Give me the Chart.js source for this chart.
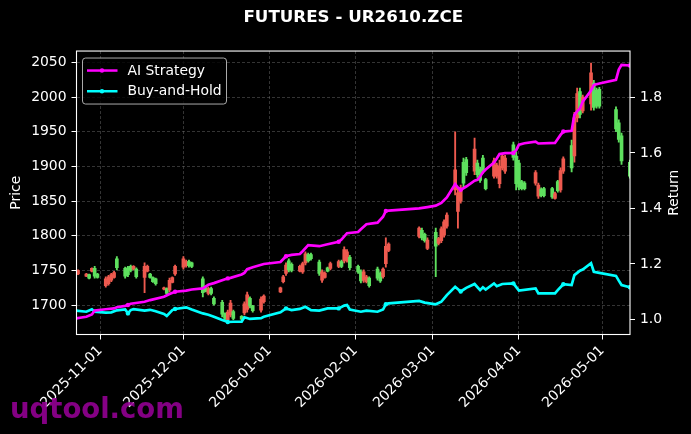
<!DOCTYPE html>
<html><head><meta charset="utf-8">
<script src="https://cdn.jsdelivr.net/npm/chart.js@4.4.1/dist/chart.umd.min.js"></script>
<style>html,body{margin:0;padding:0;background:#000;overflow:hidden}</style>
</head><body>
<canvas id="c" width="691" height="434"></canvas>
<script>
// ---------- data ----------
const candleDates = [
'2025-10-24','2025-10-27','2025-10-28','2025-10-29','2025-10-30','2025-10-31',
'2025-11-03','2025-11-04','2025-11-05','2025-11-06','2025-11-07',
'2025-11-10','2025-11-11','2025-11-12','2025-11-13','2025-11-14',
'2025-11-17','2025-11-18','2025-11-19','2025-11-20','2025-11-21',
'2025-11-24','2025-11-25','2025-11-26','2025-11-27','2025-11-28',
'2025-12-01','2025-12-02','2025-12-03','2025-12-04',
'2025-12-08','2025-12-09','2025-12-10','2025-12-11','2025-12-12',
'2025-12-15','2025-12-16','2025-12-17','2025-12-18','2025-12-19',
'2025-12-22','2025-12-23','2025-12-24','2025-12-25','2025-12-26',
'2025-12-29','2025-12-30',
'2026-01-05','2026-01-06','2026-01-07','2026-01-08','2026-01-09',
'2026-01-12','2026-01-13','2026-01-14','2026-01-15','2026-01-16',
'2026-01-19','2026-01-20','2026-01-21','2026-01-22','2026-01-23',
'2026-01-26','2026-01-27','2026-01-28','2026-01-29','2026-01-30',
'2026-02-02','2026-02-03','2026-02-04','2026-02-05','2026-02-06',
'2026-02-09','2026-02-10','2026-02-11','2026-02-12','2026-02-13',
'2026-02-24','2026-02-25','2026-02-26','2026-02-27',
'2026-03-02','2026-03-03','2026-03-04','2026-03-05','2026-03-06',
'2026-03-09','2026-03-10','2026-03-11','2026-03-12','2026-03-13',
'2026-03-16','2026-03-17','2026-03-18','2026-03-19','2026-03-20',
'2026-03-23','2026-03-24','2026-03-25','2026-03-26','2026-03-27',
'2026-03-30','2026-03-31','2026-04-01','2026-04-02','2026-04-03',
'2026-04-07','2026-04-08','2026-04-09','2026-04-10',
'2026-04-13','2026-04-14','2026-04-15','2026-04-16','2026-04-17',
'2026-04-20','2026-04-21','2026-04-22','2026-04-23','2026-04-24',
'2026-04-27','2026-04-28','2026-04-29','2026-04-30',
'2026-05-06','2026-05-07','2026-05-08','2026-05-11'];

const opens = [
1745,1742,1744,1749,1753,1745,
1728,1731,1736,1740,1767,
1753,1754,1756,1752,1752,
1740,1749,1745,1740,1738,
1723,1724,1722,1733,1745,
1755,1757,1763,1761,
1738,1725,1717,1724,1710,
1704,1688,1679,1686,1691,
1684,1689,1694,1710,1699,
1693,1705,
1719,1734,1746,1764,1759,
1749,1748,1761,1773,1773,
1762,1736,1740,1754,1753,
1756,1763,1764,1764,1769,
1756,1748,1736,1734,1739,
1752,1746,1741,1760,1779,
1799,1808,1802,1782,
1805,1789,1793,1801,1814,
1866,1835,1850,1906,1910,
1893,1905,1896,1912,1881,
1886,1886,1875,1898,1893,
1931,1915,1905,1878,1876,
1876,1857,1867,1868,
1868,1854,1878,1866,1893,
1930,1915,1970,2008,1980,
1990,2020,2010,2011,
1982,1963,1944,1906];

const highs = [
1751,1746,1745,1754,1756,1746,
1741,1743,1746,1749,1770,
1755,1756,1758,1757,1754,
1761,1758,1746,1741,1739,
1726,1725,1739,1741,1758,
1770,1765,1765,1762,
1741,1726,1726,1726,1712,
1707,1689,1693,1707,1693,
1685,1705,1719,1712,1700,
1712,1715,
1726,1743,1761,1767,1761,
1758,1762,1777,1775,1775,
1765,1751,1748,1755,1762,
1765,1765,1784,1780,1772,
1758,1751,1751,1743,1741,
1755,1748,1754,1797,1790,
1813,1811,1804,1797,
1811,1798,1813,1823,1833,
1950,1870,1873,1912,1913,
1941,1909,1899,1916,1883,
1912,1905,1909,1919,1916,
1935,1921,1909,1880,1878,
1894,1876,1869,1870,
1870,1863,1880,1898,1914,
1938,1978,2013,2013,2003,
2049,2024,2013,2014,
1986,1967,1948,1909];

const lows = [
1744,1741,1738,1748,1739,1739,
1726,1729,1734,1739,1751,
1739,1741,1748,1751,1739,
1718,1748,1739,1733,1729,
1722,1715,1719,1732,1743,
1752,1755,1755,1754,
1712,1719,1715,1715,1700,
1683,1679,1676,1683,1679,
1679,1686,1690,1696,1690,
1690,1703,
1718,1732,1743,1748,1748,
1748,1746,1758,1762,1765,
1743,1733,1739,1748,1751,
1754,1754,1761,1762,1751,
1746,1732,1733,1732,1726,
1736,1733,1739,1755,1777,
1797,1794,1791,1780,
1741,1787,1790,1798,1811,
1859,1811,1847,1870,1887,
1888,1884,1877,1890,1866,
1883,1883,1869,1895,1890,
1909,1866,1866,1866,1866,
1873,1854,1856,1856,
1854,1853,1863,1863,1890,
1892,1906,1964,1970,1977,
1981,1981,1984,1984,
1950,1935,1903,1883];

const closes = [
1750,1745,1739,1753,1742,1740,
1738,1741,1744,1747,1754,
1742,1744,1750,1756,1741,
1756,1756,1740,1734,1731,
1725,1717,1736,1740,1756,
1767,1763,1757,1756,
1718,1720,1724,1717,1702,
1687,1681,1690,1703,1681,
1680,1702,1715,1699,1692,
1709,1713,
1725,1741,1758,1751,1750,
1756,1760,1774,1764,1767,
1746,1748,1746,1749,1760,
1763,1756,1780,1777,1754,
1748,1735,1748,1741,1728,
1739,1735,1752,1785,1788,
1811,1797,1793,1794,
1785,1796,1810,1820,1830,
1895,1862,1869,1876,1891,
1925,1888,1880,1894,1868,
1908,1902,1900,1915,1912,
1913,1875,1870,1868,1868,
1891,1873,1858,1858,
1856,1861,1865,1894,1911,
1898,1970,2005,1975,2000,
2035,1985,1987,1987,
1954,1939,1908,1886];

const aiDates = [
'2025-10-23','2025-10-27','2025-10-29','2025-10-30','2025-11-03','2025-11-06','2025-11-07','2025-11-10','2025-11-11','2025-11-12',
'2025-11-17','2025-11-19','2025-11-24','2025-11-26','2025-11-28','2025-12-02','2025-12-04','2025-12-08','2025-12-10','2025-12-12',
'2025-12-16','2025-12-17','2025-12-18','2025-12-22','2025-12-23','2025-12-24','2025-12-26','2025-12-30','2026-01-05','2026-01-07',
'2026-01-09','2026-01-12','2026-01-13','2026-01-15','2026-01-19','2026-01-22','2026-01-26','2026-01-27','2026-01-29','2026-02-02',
'2026-02-03','2026-02-05','2026-02-09','2026-02-11','2026-02-12','2026-02-13','2026-02-24','2026-02-27','2026-03-02','2026-03-04',
'2026-03-06','2026-03-09','2026-03-10','2026-03-11','2026-03-13','2026-03-16','2026-03-17','2026-03-18','2026-03-19','2026-03-20',
'2026-03-23','2026-03-24','2026-03-25','2026-03-27','2026-03-30','2026-03-31','2026-04-01','2026-04-03','2026-04-07','2026-04-08',
'2026-04-14','2026-04-16','2026-04-17','2026-04-20','2026-04-21','2026-04-22','2026-04-23','2026-04-24','2026-04-27','2026-04-28',
'2026-04-30','2026-05-06','2026-05-07','2026-05-08','2026-05-11'];
const aiValues = [
1.004,1.010,1.018,1.032,1.037,1.040,1.044,1.049,1.052,1.057,
1.064,1.070,1.082,1.092,1.100,1.104,1.108,1.112,1.125,1.131,
1.145,1.148,1.150,1.162,1.168,1.181,1.188,1.200,1.207,1.228,
1.233,1.236,1.246,1.268,1.264,1.271,1.280,1.288,1.311,1.315,
1.325,1.343,1.349,1.370,1.391,1.392,1.400,1.405,1.410,1.420,
1.440,1.488,1.475,1.467,1.479,1.500,1.503,1.515,1.530,1.540,
1.565,1.580,1.596,1.599,1.600,1.610,1.630,1.635,1.641,1.634,
1.636,1.665,1.677,1.680,1.737,1.750,1.760,1.785,1.825,1.845,
1.850,1.863,1.900,1.917,1.915];

const bhDates = [
'2025-10-23','2025-10-27','2025-10-29','2025-10-30','2025-11-03','2025-11-05','2025-11-07','2025-11-10','2025-11-11','2025-11-12',
'2025-11-13','2025-11-17','2025-11-19','2025-11-21','2025-11-24','2025-11-25','2025-11-27','2025-11-28','2025-12-02','2025-12-04',
'2025-12-08','2025-12-10','2025-12-12','2025-12-15','2025-12-17','2025-12-19','2025-12-22','2025-12-23','2025-12-25','2025-12-29',
'2025-12-30','2026-01-05','2026-01-07','2026-01-09','2026-01-12','2026-01-14','2026-01-16','2026-01-19','2026-01-22','2026-01-26',
'2026-01-28','2026-01-29','2026-01-30','2026-02-03','2026-02-05','2026-02-09','2026-02-11','2026-02-12','2026-02-13','2026-02-24',
'2026-02-26','2026-03-02','2026-03-04','2026-03-06','2026-03-09','2026-03-11','2026-03-13','2026-03-16','2026-03-18','2026-03-19',
'2026-03-20','2026-03-23','2026-03-24','2026-03-26','2026-03-30','2026-04-01','2026-04-07','2026-04-08','2026-04-14','2026-04-15',
'2026-04-17','2026-04-20','2026-04-21','2026-04-22','2026-04-23','2026-04-24','2026-04-27','2026-04-28','2026-04-30','2026-05-06',
'2026-05-07','2026-05-08','2026-05-11'];
const bhValues = [
1.032,1.028,1.037,1.028,1.025,1.026,1.033,1.036,1.022,1.034,
1.037,1.032,1.035,1.030,1.020,1.013,1.034,1.038,1.044,1.036,
1.022,1.017,1.010,0.998,0.991,0.992,0.992,1.008,1.002,1.005,
1.010,1.026,1.040,1.034,1.038,1.046,1.034,1.032,1.040,1.040,
1.050,1.052,1.036,1.028,1.032,1.028,1.036,1.055,1.058,1.067,
1.061,1.055,1.064,1.088,1.118,1.101,1.114,1.128,1.106,1.116,
1.108,1.130,1.120,1.128,1.130,1.104,1.112,1.094,1.094,1.106,
1.127,1.124,1.160,1.168,1.176,1.180,1.203,1.172,1.168,1.157,
1.140,1.124,1.116];

const markerDates = ['2025-10-23','2025-11-11','2025-11-28','2025-12-17','2026-01-07','2026-01-26',
  '2026-02-12','2026-03-11','2026-03-30','2026-04-17','2026-05-11'];
const monthTicks = ['2025-11-01','2025-12-01','2026-01-01','2026-02-01','2026-03-01','2026-04-01','2026-05-01'];
const priceTicks = [1700,1750,1800,1850,1900,1950,2000,2050];
const returnTicks = [1.0,1.2,1.4,1.6,1.8];
const seriesLabels = ['AI Strategy','Buy-and-Hold'];
const titleText = 'FUTURES - UR2610.ZCE';

// ---------- build ----------
const dayNum = s => Date.UTC(+s.slice(0,4), +s.slice(5,7)-1, +s.slice(8,10)) / 86400000;
const fmtDay = v => new Date(Math.round(v) * 86400000).toISOString().slice(0,10);
const markerSet = new Set(markerDates);
const UP = '#ee5a4f', DOWN = '#5ee05e';
const candleColors = candleDates.map((d,i) => closes[i] >= opens[i] ? UP : DOWN);
const wickData = candleDates.map((d,i) => ({x: dayNum(d), y: [lows[i], highs[i]]}));
const bodyData = candleDates.map((d,i) => ({x: dayNum(d), y: [opens[i], closes[i]]}));
const aiData = aiDates.map((d,i) => ({x: dayNum(d), y: aiValues[i], d}));
const bhData = bhDates.map((d,i) => ({x: dayNum(d), y: bhValues[i], d}));

const FONT = 'DejaVu Sans';
Chart.defaults.font.family = FONT;
Chart.defaults.color = '#ffffff';

const markerRadius = c => (c.raw && markerSet.has(c.raw.d)) ? 2.2 : 0;

const bgPlugin = {
  id: 'bg',
  beforeDraw(chart) {
    const ctx = chart.ctx;
    ctx.save(); ctx.fillStyle = '#000'; ctx.fillRect(0,0,chart.width,chart.height); ctx.restore();
  }
};

const decoPlugin = {
  id: 'deco',
  afterDraw(chart) {
    const ctx = chart.ctx, a = chart.chartArea;
    ctx.save();
    // frame
    ctx.strokeStyle = '#ffffff'; ctx.lineWidth = 1.1;
    ctx.strokeRect(a.left, a.top, a.right - a.left, a.bottom - a.top);
    // legend
    const lx = a.left + 6, ly = a.top + 7, lw = 144, lh = 46;
    ctx.beginPath();
    ctx.roundRect(lx, ly, lw, lh, 3);
    ctx.fillStyle = 'rgba(0,0,0,0.8)'; ctx.fill();
    ctx.strokeStyle = 'rgba(200,200,200,0.85)'; ctx.lineWidth = 1; ctx.stroke();
    const lines = chart.data.datasets.filter(d => d.type === 'line');
    lines.forEach((ds, i) => {
      const y = ly + 12.5 + i * 20.7;
      ctx.strokeStyle = ds.borderColor; ctx.lineWidth = 2.5;
      ctx.beginPath(); ctx.moveTo(lx + 4.5, y); ctx.lineTo(lx + 35, y); ctx.stroke();
      ctx.fillStyle = ds.borderColor;
      ctx.beginPath(); ctx.arc(lx + 19.5, y, 2.2, 0, Math.PI*2); ctx.fill();
      ctx.fillStyle = '#ffffff'; ctx.font = '13.9px "' + FONT + '"';
      ctx.textAlign = 'left'; ctx.textBaseline = 'middle';
      ctx.fillText(ds.label, lx + 45, y + 0.5);
    });
    // right axis title
    ctx.save();
    ctx.translate(674, (a.top + a.bottom) / 2);
    ctx.rotate(-Math.PI/2);
    ctx.fillStyle = '#ffffff'; ctx.font = '13.9px "' + FONT + '"';
    ctx.textAlign = 'center'; ctx.textBaseline = 'middle';
    ctx.fillText('Return', 0, 0);
    ctx.restore();
    // watermark
    ctx.font = 'bold 27.5px "' + FONT + '"';
    ctx.fillStyle = 'rgba(150,0,150,0.88)';
    ctx.textAlign = 'left'; ctx.textBaseline = 'alphabetic';
    ctx.fillText('uqtool.com', 10, 418);
    ctx.restore();
  }
};

const gridCommon = {color: 'rgba(120,120,120,0.55)', lineWidth: 0.8, tickColor: '#ffffff', tickLength: 5, tickWidth: 1, offset: false};

new Chart(document.getElementById('c'), {
  type: 'bar',
  data: {
    datasets: [
      {type: 'line', label: seriesLabels[0], data: aiData, yAxisID: 'y1', borderColor: '#ff00ff', backgroundColor: '#ff00ff',
       borderWidth: 2.7, tension: 0, pointRadius: markerRadius, pointBorderWidth: 0, pointBackgroundColor: '#ff00ff', order: 0, clip: 0},
      {type: 'line', label: seriesLabels[1], data: bhData, yAxisID: 'y1', borderColor: '#00ffff', backgroundColor: '#00ffff',
       borderWidth: 2.7, tension: 0, pointRadius: markerRadius, pointBorderWidth: 0, pointBackgroundColor: '#00ffff', order: 0, clip: 0},
      {type: 'bar', label: 'High-Low', data: wickData, yAxisID: 'y', backgroundColor: candleColors, barThickness: 1.2, grouped: false, borderWidth: 0, order: 2},
      {type: 'bar', label: 'Open-Close', data: bodyData, yAxisID: 'y', backgroundColor: candleColors, barThickness: 3, grouped: false, borderWidth: 0, order: 1}
    ]
  },
  options: {
    responsive: false,
    animation: false,
    devicePixelRatio: 1,
    layout: {padding: 0},
    plugins: {
      legend: {display: false},
      tooltip: {enabled: false},
      title: {display: true, text: titleText, color: '#ffffff', fullSize: false,
              font: {family: FONT, size: 16.7, weight: 'bold'}, padding: {top: 8, bottom: 23}}
    },
    scales: {
      x: {
        type: 'linear', position: 'bottom', offset: false,
        min: dayNum('2025-10-23') + 0.45, max: dayNum('2026-05-11') + 0.05,
        grid: {...gridCommon},
        border: {display: false, dash: [3, 2]},
        ticks: {color: '#ffffff', font: {family: FONT, size: 13.9}, autoSkip: false, maxRotation: 45, minRotation: 45, padding: 3,
                callback: v => fmtDay(v)},
        afterBuildTicks: s => { s.ticks = monthTicks.map(m => ({value: dayNum(m)})); },
        afterFit: s => { s.height = 99.5; }
      },
      y: {
        type: 'linear', position: 'left', min: 1657.8, max: 2066.3,
        grid: {...gridCommon},
        border: {display: false, dash: [3, 2]},
        ticks: {color: '#ffffff', font: {family: FONT, size: 13.9}, padding: 5, callback: v => String(v)},
        title: {display: true, text: 'Price', color: '#ffffff', font: {family: FONT, size: 13.9}, padding: {top: 8.5, bottom: 0}},
        afterBuildTicks: s => { s.ticks = priceTicks.map(v => ({value: v})); },
        afterFit: s => { s.width = 76.5; }
      },
      y1: {
        type: 'linear', position: 'right', min: 0.946, max: 1.967,
        grid: {...gridCommon, drawOnChartArea: false},
        border: {display: false},
        ticks: {color: '#ffffff', font: {family: FONT, size: 13.9}, padding: 5, callback: v => v.toFixed(1)},
        afterBuildTicks: s => { s.ticks = returnTicks.map(v => ({value: v})); },
        afterFit: s => { s.width = 61; }
      }
    }
  },
  plugins: [bgPlugin, decoPlugin]
});
</script>
</body></html>
